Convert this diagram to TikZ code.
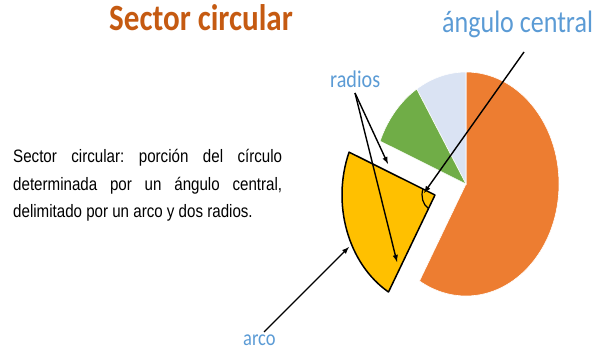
\documentclass[tikz,border=0pt]{standalone}
\usepackage{fontspec}
\newfontfamily\calibrifont[FakeStretch=0.84]{Carlito}
\newfontfamily\arialfont[FakeStretch=0.84]{Liberation Sans}
\usepackage{tikz}
\usetikzlibrary{arrows}
\usepackage{xcolor}

\definecolor{titlebrown}{HTML}{C55A11}
\definecolor{labelblue}{HTML}{5B9BD5}
\definecolor{pieorange}{HTML}{ED7D31}
\definecolor{piegreen}{HTML}{70AD47}
\definecolor{pieblue}{HTML}{DAE3F3}
\definecolor{pieyellow}{HTML}{FFC000}
\frenchspacing

\begin{document}
\begin{tikzpicture}[x=1pt,y=1pt,every node/.style={inner sep=0pt},
  bluetext/.style={text=labelblue,anchor=base west},
  slice/.style={draw=white,line width=0.6pt},
  pointer/.style={-latex,line width=1.4pt}]

  \useasboundingbox (0,0) rectangle (597,351);

  % texts
  \node[font=\calibrifont\bfseries\fontsize{37}{40}\selectfont,text=titlebrown,
    anchor=base] (title) at (201,320) {Sector circular};
  \node[font=\arialfont\fontsize{18}{27.5}\selectfont,text width=269pt,
    align=justify,anchor=base west] (desc) at (13,188)
    {Sector circular: porción del círculo\linebreak determinada por un ángulo
      central,\linebreak delimitado por un arco y dos radios.};
  \node[bluetext,font=\calibrifont\fontsize{31}{34}\selectfont] (central) at
  (442,318) {ángulo central};
  \node[bluetext,font=\calibrifont\fontsize{24}{28}\selectfont] (radios) at
  (330,263) {radios};
  \node[bluetext,font=\calibrifont\fontsize{22}{26}\selectfont] (arco) at
  (243,6) {arco};

  % pie
  \coordinate (centre) at (466,167);
  \coordinate (apex) at (435,156);

  \filldraw[slice,fill=pieorange] (centre) -- +(90:93 and 112)
  arc[start angle=90,end angle=-120,x radius=93,y radius=112] -- cycle;
  \filldraw[slice,fill=pieblue] (centre) -- +(122:93 and 112)
  arc[start angle=122,end angle=90,x radius=93,y radius=112] -- cycle;
  \filldraw[slice,fill=piegreen] (centre) -- +(157.5:93 and 112)
  arc[start angle=157.5,end angle=122,x radius=93,y radius=112] -- cycle;

  % sector
  \filldraw[fill=pieyellow,draw=black,line width=1.5pt,line join=round]
  (apex) -- +(157.5:93 and 112)
  arc[start angle=157.5,end angle=240,x radius=93,y radius=112] -- cycle;
  \draw[line width=1.2pt] (apex) ++(157.5:13 and 15.7)
  arc[start angle=157.5,end angle=240,x radius=13,y radius=15.7];

  % pointers
  \coordinate (centraltail) at (524,299);
  \coordinate (centraltip) at (424,158);
  \coordinate (radiostail) at (355,258);
  \coordinate (radiotipa) at (388,187);
  \coordinate (radiotipb) at (397,89);
  \coordinate (arcotail) at (264,19);
  \coordinate (arcotip) at (349,104);

  \draw[pointer] (centraltail) -- (centraltip);
  \draw[pointer] (radiostail) -- (radiotipa);
  \draw[pointer] (radiostail) -- (radiotipb);
  \draw[pointer] (arcotail) -- (arcotip);
\end{tikzpicture}
\end{document}
